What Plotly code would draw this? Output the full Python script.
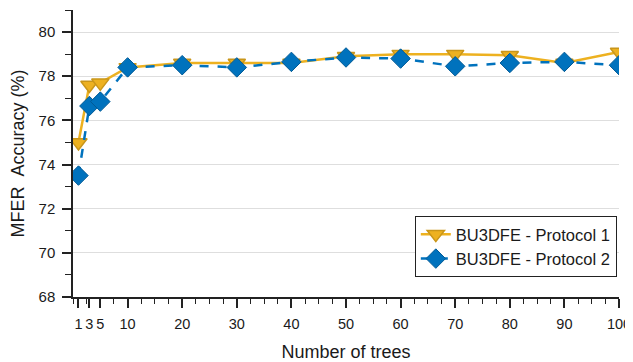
import plotly.graph_objects as go

trees = [1, 3, 5, 10, 20, 30, 40, 50, 60, 70, 80, 90, 100]
protocol1 = [75.0, 77.6, 77.7, 78.4, 78.6, 78.6, 78.6, 78.9, 79.0, 79.0, 78.95, 78.6, 79.1]
protocol2 = [73.5, 76.65, 76.85, 78.4, 78.5, 78.4, 78.65, 78.85, 78.8, 78.45, 78.6, 78.65, 78.5]
x_ticks = [1, 3, 5, 10, 20, 30, 40, 50, 60, 70, 80, 90, 100]
y_ticks = [68, 70, 72, 74, 76, 78, 80]

gold = "#EDB120"
gold_edge = "#C9961A"
blue = "#0072BD"
blue_edge = "#005A96"

fig = go.Figure()
fig.add_trace(go.Scatter(
    x=trees, y=protocol1, mode="lines+markers", name="BU3DFE - Protocol 1",
    line=dict(color=gold, width=2.5),
    marker=dict(symbol="triangle-down", size=15, color=gold, line=dict(color=gold_edge, width=1.5)),
))
fig.add_trace(go.Scatter(
    x=trees, y=protocol2, mode="lines+markers", name="BU3DFE - Protocol 2",
    line=dict(color=blue, width=2.5, dash="dash"),
    marker=dict(symbol="diamond", size=15, color=blue, line=dict(color=blue_edge, width=1)),
))

# page body has an 8px default margin, so the figure is sized to fit the window
fig.update_layout(
    width=625, height=354,
    margin=dict(l=65, r=14, t=2, b=65),
    plot_bgcolor="white", paper_bgcolor="white",
    font=dict(family="Liberation Sans, Arial, sans-serif", size=15, color="#1a1a1a"),
    legend=dict(
        x=0.996, y=0.07, xanchor="right", yanchor="bottom",
        bordercolor="#222", borderwidth=1, bgcolor="white",
        font=dict(size=16.5, color="#1a1a1a"), tracegroupgap=0,
    ),
    xaxis=dict(
        range=[0, 100], tickmode="array", tickvals=x_ticks,
        ticktext=[str(v) for v in x_ticks], automargin=False,
        tickfont=dict(size=14.5),
        showgrid=False, zeroline=False,
        showline=True, linecolor="#222", linewidth=1.5,
        ticks="outside", ticklen=9, tickwidth=1.5, tickcolor="#222",
        ticklabelstandoff=4,
        minor=dict(tickmode="linear", tick0=0, dtick=2.5, ticks="outside",
                   ticklen=5, tickwidth=1.2, tickcolor="#222", showgrid=False),
        title=dict(text="Number of trees", font=dict(size=18), standoff=14),
    ),
    yaxis=dict(
        range=[68, 81], tickmode="array", tickvals=y_ticks, automargin=False,
        showgrid=True, gridcolor="#dedede", gridwidth=1, zeroline=False,
        showline=True, linecolor="#222", linewidth=1.5,
        ticks="outside", ticklen=9, tickwidth=1.5, tickcolor="#222",
        ticklabelstandoff=4,
        minor=dict(tickmode="linear", tick0=69, dtick=2, ticks="outside",
                   ticklen=6, tickwidth=1.2, tickcolor="#222", showgrid=False),
        title=dict(text="MFER\u00a0\u00a0Accuracy (%)", font=dict(size=18), standoff=12),
    ),
)

fig.write_html("out.html")
